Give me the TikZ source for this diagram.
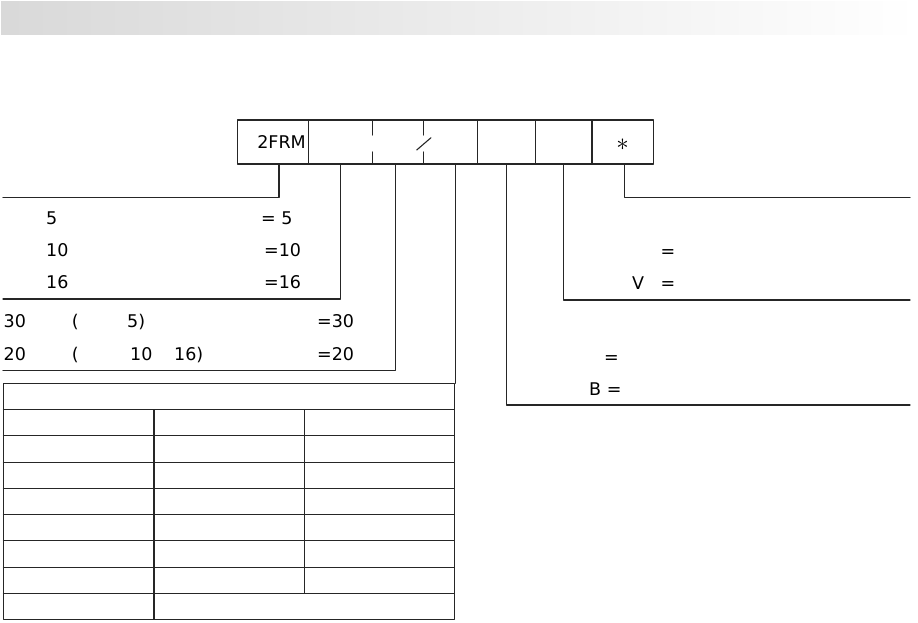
\documentclass[tikz,border=0pt]{standalone}
\usepackage{fontspec}
\setmainfont{DejaVu Sans}
\usetikzlibrary{positioning}
\begin{document}
\begin{tikzpicture}[x=1pt,y=-1pt,font=\fontsize{17.5}{21}\selectfont, line join=round, line cap=round,
	wire/.style={draw=black!85, line width=1.1pt},
	cell/.style={minimum height=44pt, inner sep=0pt, outer sep=0pt},
	lbl/.style={anchor=base west, inner sep=0pt}]
	\useasboundingbox (0,0) rectangle (918,622);
	% title bar
	\shade[left color=black!15, right color=white] (1,1) rectangle (918,34);
	% code boxes
	\node[cell, minimum width=71pt, text width=66pt, align=right, inner xsep=2.5pt] (frm) at (272.8,142) {2FRM};
	\foreach \n/\w [remember=\n as \p (initially frm)] in {sizebox/64.4, serbox/50.6, flowbox/54.4, plbox/57.6, sealbox/56.7, morebox/61.3}
	\node[cell, minimum width=\w pt, right=0pt of \p] (\n) {};
	\draw[wire] (frm.north west) rectangle (morebox.south east);
	\foreach \n in {frm,flowbox,plbox,sealbox}
	\draw[wire] (\n.north east) -- (\n.south east);
	\foreach \n in {sizebox,serbox}
	\draw[wire] (\n.north east) -- ++(0,15) (\n.south east) -- ++(0,-12);
	\draw[wire] (416.7,150) -- (431,137.7);
	\node[inner sep=0pt, font=\fontsize{25}{25}\selectfont] (star) at (622.5,145) {$\ast$};
	% table
	\node[draw=black!85, line width=1.1pt, minimum width=450.7pt, minimum height=236pt, inner sep=0pt, anchor=north west] (tab) at (3.3,383.3) {};
	\foreach \i in {1,...,8}
	\draw[wire] (3.3,{383.3+26.25*\i}) -- (454,{383.3+26.25*\i});
	\draw[wire] (154,409.55) -- (154,619.3) (304.3,409.55) -- (304.3,593.05);
	% connectors
	\path
	(3,197.3) coordinate (frmend)
	(3,299) coordinate (sizeend)
	(3,370.7) coordinate (serend)
	(910,405) coordinate (plend)
	(910,300) coordinate (sealend)
	(910,197.3) coordinate (moreend)
	;
	\draw[wire] ([xshift=6.2pt]frm.south) |- (frmend);
	\draw[wire] (sizebox.south) |- (sizeend);
	\draw[wire] ([xshift=-2.3pt]serbox.south) |- (serend);
	\draw[wire] (flowbox.south -| tab.north east) -- (tab.north east);
	\draw[wire] (plbox.south) |- (plend);
	\draw[wire] (sealbox.south) |- (sealend);
	\draw[wire] ([xshift=1.4pt]morebox.south) |- (moreend);
	% labels
	\foreach \t/\x/\y [count=\i] in {5/46/224.5, {= 5}/261/224.5, 10/46/256.5, =10/264/256.5, 16/46/288, =16/264/288, 30/3.5/327, {(}/71.7/327, 5)/127/327, =30/317/327, 20/3.5/360, {(}/71.7/360, 10/130/360, 16)/174/360, =20/317/360, =/660.5/257, V/632/289, =/660.5/289, =/604/363.5, {B =}/589/395.5}
	\node[lbl] (t\i) at (\x,\y) {\t};
\end{tikzpicture}
\end{document}
